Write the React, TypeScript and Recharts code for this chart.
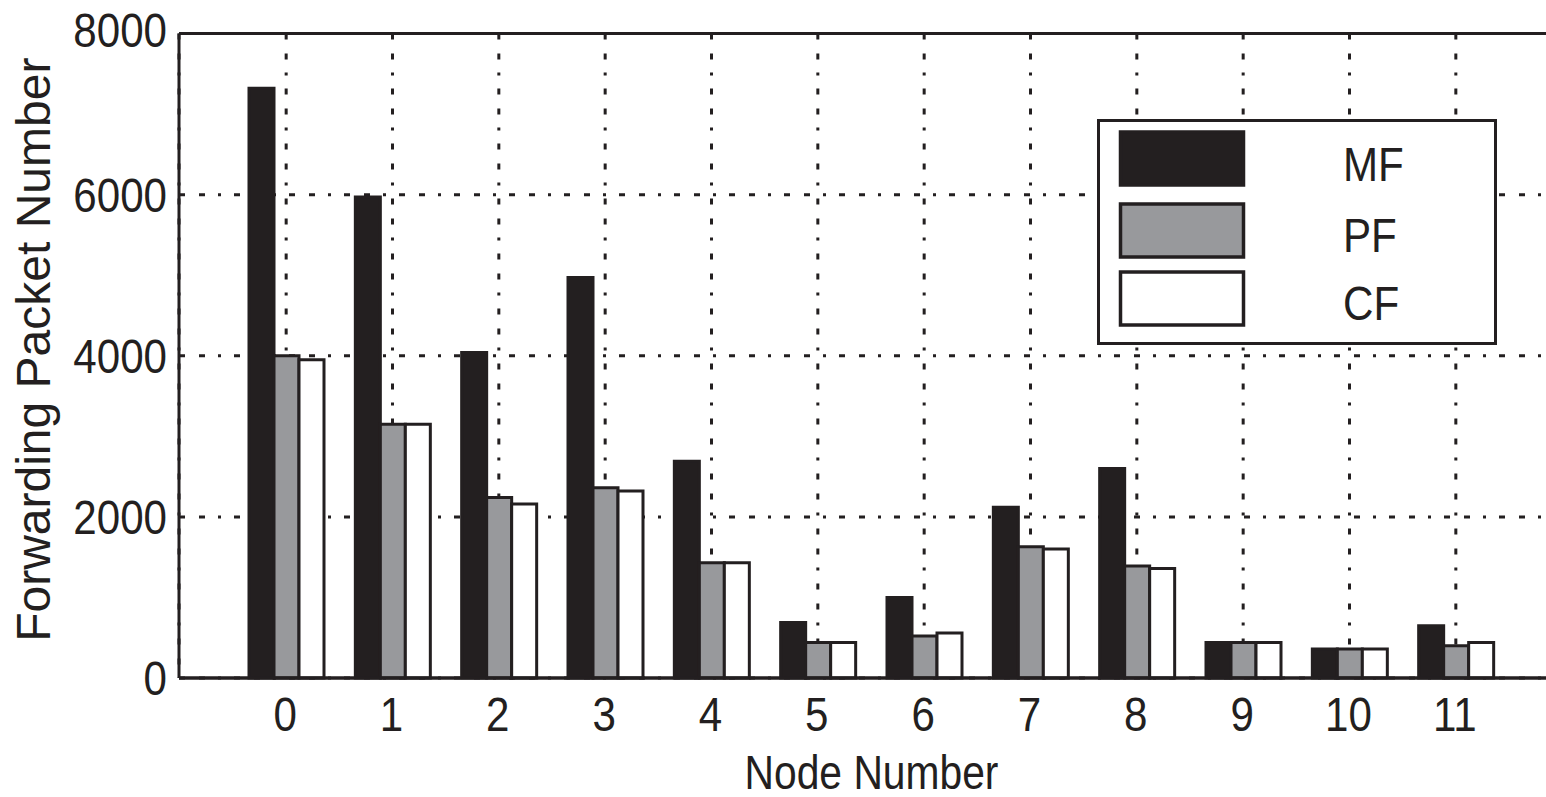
import { BarChart, Bar, XAxis, YAxis, CartesianGrid, ReferenceLine, Legend, Label } from "recharts";

const nodes = ["0", "1", "2", "3", "4", "5", "6", "7", "8", "9", "10", "11"];
const mf = [7320, 5970, 4040, 4970, 2690, 690, 1000, 2120, 2600, 440, 360, 650];
const pf = [4000, 3150, 2240, 2360, 1430, 440, 520, 1630, 1390, 440, 360, 400];
const cf = [3950, 3150, 2160, 2320, 1430, 440, 560, 1600, 1360, 440, 360, 440];
const yTicks = [0, 2000, 4000, 6000, 8000];

const INK = "#231f20";
const GRAY = "#98999c";
const FONT = "'Liberation Sans', Arial, Helvetica, sans-serif";
const DASH = "6 14 6 13 3 13";

const data = nodes.map((n, i) => ({ node: n, MF: mf[i], PF: pf[i], CF: cf[i] }));

function XTick({ x, y, payload }: any) {
  return (
    <g transform={`translate(${x - 1},${y + 53})`}>
      <text transform="scale(0.86,1)" textAnchor="middle" fontSize={49} fontFamily={FONT} fill={INK}>
        {payload.value}
      </text>
    </g>
  );
}

function YTick({ x, y, payload }: any) {
  // top label sits a little higher in the original
  const dy = payload.value === 8000 ? 13 : 17;
  return (
    <g transform={`translate(${x},${y + dy})`}>
      <text transform="scale(0.86,1)" textAnchor="end" fontSize={49} fontFamily={FONT} fill={INK}>
        {payload.value}
      </text>
    </g>
  );
}

function LegendBox() {
  const items = [
    { name: "MF", fill: INK, y: 13, base: 62 },
    { name: "PF", fill: GRAY, y: 85, base: 133 },
    { name: "CF", fill: "#ffffff", y: 153, base: 201 },
  ];
  return (
    <svg width={400} height={226} style={{ display: "block" }}>
      <rect x={1.5} y={1.5} width={397} height={223} fill="#fff" stroke={INK} strokeWidth={3} />
      {items.map((it) => (
        <g key={it.name}>
          <rect x={23.5} y={it.y} width={123} height={53} fill={it.fill} stroke={INK} strokeWidth={3.5} />
          <g transform={`translate(246,${it.base})`}>
            <text transform="scale(0.86,1)" fontSize={49} fontFamily={FONT} fill={INK}>
              {it.name}
            </text>
          </g>
        </g>
      ))}
    </svg>
  );
}

export default function App() {
  return (
    <div
      style={{
        position: "absolute",
        left: 0,
        top: 0,
        width: 1546,
        height: 797,
        overflow: "hidden",
        background: "#fff",
      }}
    >
      <BarChart
        width={1600}
        height={797}
        data={data}
        margin={{ top: 33.5, right: 38, bottom: 0, left: 0 }}
        barSize={25}
        barGap={0}
      >
        <CartesianGrid stroke={INK} strokeWidth={3} strokeDasharray={DASH} />
        <XAxis
          dataKey="node"
          height={119}
          padding={{ left: 54, right: 53 }}
          tickLine={false}
          tickSize={0}
          tickMargin={0}
          axisLine={{ stroke: INK, strokeWidth: 3.5 }}
          tick={<XTick />}
          interval={0}
        >
          <Label
            content={({ viewBox }: any) => (
              <g transform={`translate(${viewBox.x + viewBox.width / 2 + 1},789)`}>
                <text transform="scale(0.85,1)" textAnchor="middle" fontSize={48} fontFamily={FONT} fill={INK}>
                  Node Number
                </text>
              </g>
            )}
          />
        </XAxis>
        <YAxis
          width={179}
          domain={[0, 8000]}
          ticks={yTicks}
          interval={0}
          tickLine={false}
          tickSize={0}
          tickMargin={12}
          axisLine={{ stroke: INK, strokeWidth: 3 }}
          tick={<YTick />}
        >
          <Label
            content={({ viewBox }: any) => (
              <text
                transform={`translate(50,${viewBox.y + viewBox.height / 2 - 6}) rotate(-90)`}
                textAnchor="middle"
                fontSize={48}
                fontFamily={FONT}
                fill={INK}
              >
                Forwarding Packet Number
              </text>
            )}
          />
        </YAxis>
        <ReferenceLine y={8000} stroke={INK} strokeWidth={3} />
        <Legend
          layout="vertical"
          align="center"
          verticalAlign="middle"
          content={() => <LegendBox />}
          wrapperStyle={{ position: "absolute", left: 1097, top: 119, width: 400, height: 226 }}
        />
        <Bar dataKey="MF" fill={INK} stroke={INK} strokeWidth={3} isAnimationActive={false} />
        <Bar dataKey="PF" fill={GRAY} stroke={INK} strokeWidth={3} isAnimationActive={false} />
        <Bar dataKey="CF" fill="#ffffff" stroke={INK} strokeWidth={3} isAnimationActive={false} />
      </BarChart>
    </div>
  );
}
